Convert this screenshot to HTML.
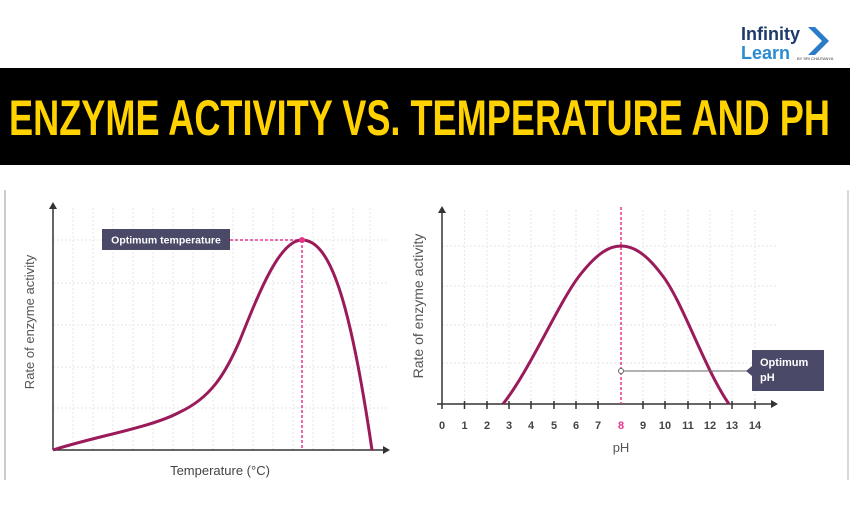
<!DOCTYPE html>
<html><head><style>
body{margin:0;width:850px;height:507px;background:#fff;overflow:hidden;font-family:"Liberation Sans",sans-serif}
</style></head><body>
<svg width="850" height="507" viewBox="0 0 850 507" xmlns="http://www.w3.org/2000/svg" font-family="Liberation Sans, sans-serif">
<rect x="0" y="68" width="850" height="97" fill="#000"/>
<text x="9" y="135" fill="#ffd200" font-size="50" font-weight="bold" textLength="821" lengthAdjust="spacingAndGlyphs">ENZYME ACTIVITY VS. TEMPERATURE AND PH</text>
<!-- logo -->
<text x="741" y="40" font-size="18" font-weight="bold" fill="#1d3a6b">Infinity</text>
<text x="741" y="59" font-size="18" font-weight="bold" fill="#2a8bd0">Learn</text>
<path d="M808 27 L822 41 L808 55 L815 55 L829 41 L815 27Z" fill="#2a7bc8"/>
<text x="797" y="60" font-size="4" fill="#333">BY SRI CHAITANYA</text>
<line x1="5" y1="190" x2="5" y2="480" stroke="#bbb" stroke-width="1.5"/>
<line x1="848" y1="190" x2="848" y2="480" stroke="#ccc" stroke-width="1.5"/>
<!-- left grid -->
<g stroke="#e6e6e6" stroke-dasharray="2 2" stroke-width="1">
<line x1="53" y1="240" x2="387" y2="240"/><line x1="53" y1="283" x2="387" y2="283"/><line x1="53" y1="325" x2="387" y2="325"/><line x1="53" y1="367" x2="387" y2="367"/><line x1="53" y1="408" x2="387" y2="408"/>
<line x1="73" y1="208" x2="73" y2="450"/><line x1="93" y1="208" x2="93" y2="450"/><line x1="113" y1="208" x2="113" y2="450"/><line x1="133" y1="208" x2="133" y2="450"/><line x1="153" y1="208" x2="153" y2="450"/><line x1="173" y1="208" x2="173" y2="450"/><line x1="193" y1="208" x2="193" y2="450"/><line x1="213" y1="208" x2="213" y2="450"/><line x1="233" y1="208" x2="233" y2="450"/><line x1="253" y1="208" x2="253" y2="450"/><line x1="273" y1="208" x2="273" y2="450"/><line x1="293" y1="208" x2="293" y2="450"/><line x1="313" y1="208" x2="313" y2="450"/><line x1="333" y1="208" x2="333" y2="450"/><line x1="353" y1="208" x2="353" y2="450"/><line x1="370" y1="208" x2="370" y2="450"/>
</g>
<line x1="53" y1="450" x2="53" y2="208" stroke="#333" stroke-width="1.5"/>
<path d="M49 209 L53 202 L57 209Z" fill="#333"/>
<line x1="53" y1="450" x2="384" y2="450" stroke="#333" stroke-width="1.5"/>
<path d="M383 446 L390 450 L383 454Z" fill="#333"/>
<line x1="302" y1="240" x2="302" y2="450" stroke="#e8358a" stroke-width="1.5" stroke-dasharray="3 2"/>
<line x1="230" y1="240" x2="302" y2="240" stroke="#e8358a" stroke-width="1.5" stroke-dasharray="3 2"/>
<path d="M53 450 C100 435 150 428 180 412 C210 398 225 375 240 340 C260 290 280 240 302 240 C330 240 350 300 372 450" fill="none" stroke="#9b1b5a" stroke-width="3"/>
<circle cx="302" cy="240" r="3" fill="#e8358a"/>
<rect x="102" y="229" width="128" height="21" fill="#4a4a68"/>
<text x="166" y="243.5" text-anchor="middle" fill="#fff" font-size="10.5" font-weight="bold">Optimum temperature</text>
<text transform="translate(34 322) rotate(-90)" text-anchor="middle" font-size="13" fill="#555">Rate of enzyme activity</text>
<text x="220" y="475" text-anchor="middle" font-size="13" fill="#444">Temperature (°C)</text>
<!-- right chart -->
<g stroke="#e6e6e6" stroke-dasharray="2 2" stroke-width="1">
<line x1="442" y1="246" x2="778" y2="246"/><line x1="442" y1="286" x2="778" y2="286"/><line x1="442" y1="325" x2="778" y2="325"/><line x1="442" y1="363" x2="778" y2="363"/>
<line x1="464.5" y1="210" x2="464.5" y2="404"/><line x1="487" y1="210" x2="487" y2="404"/><line x1="509" y1="210" x2="509" y2="404"/><line x1="531" y1="210" x2="531" y2="404"/><line x1="554" y1="210" x2="554" y2="404"/><line x1="576" y1="210" x2="576" y2="404"/><line x1="598" y1="210" x2="598" y2="404"/><line x1="643" y1="210" x2="643" y2="404"/><line x1="665" y1="210" x2="665" y2="404"/><line x1="688" y1="210" x2="688" y2="404"/><line x1="710" y1="210" x2="710" y2="404"/><line x1="732" y1="210" x2="732" y2="404"/><line x1="755" y1="210" x2="755" y2="404"/>
</g>
<line x1="442" y1="404" x2="442" y2="212" stroke="#333" stroke-width="1.5"/>
<path d="M438 213 L442 206 L446 213Z" fill="#333"/>
<line x1="437" y1="404" x2="772" y2="404" stroke="#333" stroke-width="1.5"/>
<path d="M771 400 L778 404 L771 408Z" fill="#333"/>
<g stroke="#333" stroke-width="1.5">
<line x1="442" y1="404" x2="442" y2="409"/><line x1="464.5" y1="401" x2="464.5" y2="409"/><line x1="487" y1="401" x2="487" y2="409"/><line x1="509" y1="401" x2="509" y2="409"/><line x1="531" y1="401" x2="531" y2="409"/><line x1="554" y1="401" x2="554" y2="409"/><line x1="576" y1="401" x2="576" y2="409"/><line x1="598" y1="401" x2="598" y2="409"/><line x1="643" y1="401" x2="643" y2="409"/><line x1="665" y1="401" x2="665" y2="409"/><line x1="688" y1="401" x2="688" y2="409"/><line x1="710" y1="401" x2="710" y2="409"/><line x1="732" y1="401" x2="732" y2="409"/><line x1="755" y1="401" x2="755" y2="409"/>
</g>
<line x1="621" y1="207" x2="621" y2="404" stroke="#e8358a" stroke-width="1.5" stroke-dasharray="3 2"/>
<path d="M503 404 C530 370 560 300 580 275 C598 252 610 246 621 246 C632 246 645 252 662 275 C682 300 705 370 729 404" fill="none" stroke="#9b1b5a" stroke-width="3"/>
<line x1="621" y1="371" x2="752" y2="371" stroke="#666" stroke-width="1"/>
<circle cx="621" cy="371" r="2.5" fill="#fff" stroke="#666"/>
<rect x="752" y="350" width="72" height="41" fill="#4a4a68"/>
<path d="M752 366 L746 371 L752 376Z" fill="#4a4a68"/>
<text x="760" y="366" fill="#fff" font-size="11" font-weight="bold">Optimum</text>
<text x="760" y="381" fill="#fff" font-size="11" font-weight="bold">pH</text>
<g font-size="11" font-weight="bold" fill="#444" text-anchor="middle">
<text x="442" y="429">0</text><text x="464.5" y="429">1</text><text x="487" y="429">2</text><text x="509" y="429">3</text><text x="531" y="429">4</text><text x="554" y="429">5</text><text x="576" y="429">6</text><text x="598" y="429">7</text><text x="621" y="429" fill="#e8358a">8</text><text x="643" y="429">9</text><text x="665" y="429">10</text><text x="688" y="429">11</text><text x="710" y="429">12</text><text x="732" y="429">13</text><text x="755" y="429">14</text>
</g>
<text x="621" y="452" text-anchor="middle" font-size="13" fill="#555">pH</text>
<text transform="translate(423 306) rotate(-90)" text-anchor="middle" font-size="14" fill="#555">Rate of enzyme activity</text>
</svg>
</body></html>
